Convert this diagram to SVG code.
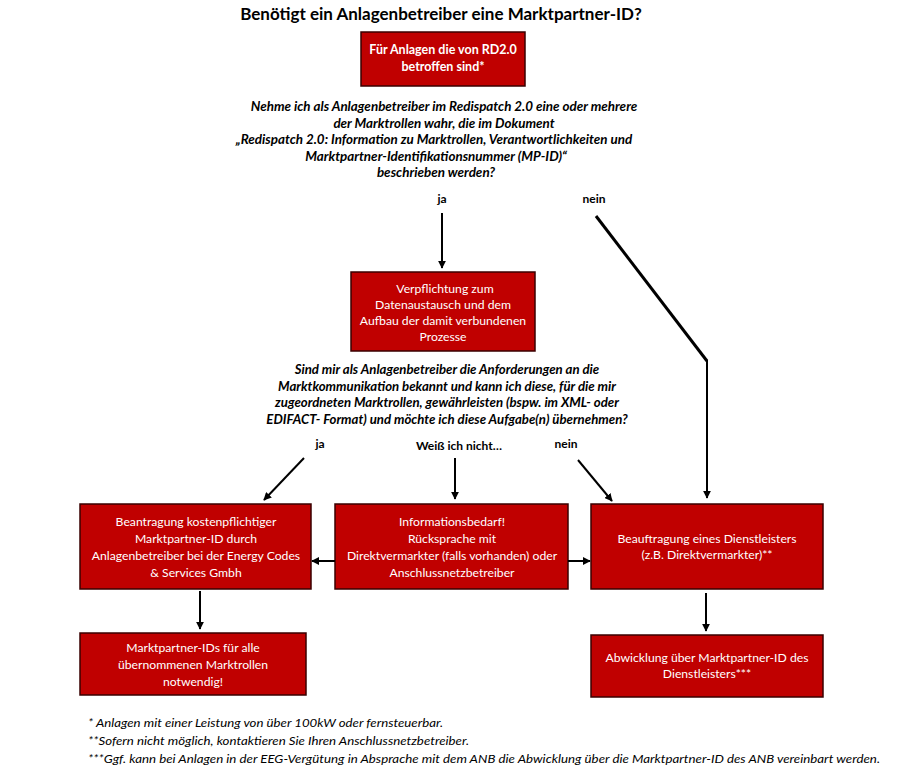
<svg xmlns="http://www.w3.org/2000/svg" width="900" height="767" viewBox="0 0 900 767">
<defs>
<marker id="ah" viewBox="0 0 10 10" refX="9" refY="5" markerWidth="4" markerHeight="4" orient="auto" markerUnits="strokeWidth">
<path d="M0,0 L10,5 L0,10 z" fill="#000"/>
</marker>
<style>
.box{fill:#C00000;stroke:#3a0000;stroke-width:1.5}
.bt{font-family:Lato,"Liberation Sans",sans-serif;font-size:12.2px;fill:#fff;text-anchor:middle}
.btb{font-weight:bold;font-size:12.5px}
.q{font-family:Lato,"Liberation Sans",sans-serif;font-size:13.4px;font-weight:bold;font-style:italic;fill:#000;text-anchor:middle}
.q2{font-size:13.2px}
.lbl{font-family:Lato,"Liberation Sans",sans-serif;font-size:12px;font-weight:bold;fill:#000;text-anchor:middle}
.fn{font-family:Lato,"Liberation Sans",sans-serif;font-size:11.5px;font-style:italic;fill:#000}
.c{stroke:#000;stroke-width:2;fill:none}
</style>
</defs>
<rect width="900" height="767" fill="#fff"/>
<text x="441" y="20" font-family="Lato,'Liberation Sans',sans-serif" font-size="17" font-weight="bold" text-anchor="middle" fill="#000">Benötigt ein Anlagenbetreiber eine Marktpartner-ID?</text>

<g id="n1">
<rect class="box" x="361" y="32" width="164" height="54"/>
<text class="bt btb" x="443" y="54">Für Anlagen die von RD2.0</text>
<text class="bt btb" x="443" y="71">betroffen sind*</text>
</g>

<g id="q1">
<text class="q" x="444" y="111">Nehme ich als Anlagenbetreiber im Redispatch 2.0 eine oder mehrere</text>
<text class="q" x="444" y="127.5">der Marktrollen wahr, die im Dokument</text>
<text class="q" x="434" y="144">„Redispatch 2.0: Information zu Marktrollen, Verantwortlichkeiten und</text>
<text class="q" x="436" y="160.5">Marktpartner-Identifikationsnummer (MP-ID)“</text>
<text class="q" x="436" y="177">beschrieben werden?</text>
</g>

<g id="n2">
<rect class="box" x="351" y="272" width="184" height="79"/>
<text class="bt" x="445" y="293">Verpflichtung zum</text>
<text class="bt" x="443" y="309">Datenaustausch und  dem</text>
<text class="bt" x="443" y="325">Aufbau der damit verbundenen</text>
<text class="bt" x="443" y="341">Prozesse</text>
</g>

<g id="q2">
<text class="q q2" x="447" y="374">Sind mir als Anlagenbetreiber die Anforderungen an die</text>
<text class="q q2" x="447" y="390.5">Marktkommunikation bekannt und kann ich diese, für die mir</text>
<text class="q q2" x="447" y="407">zugeordneten Marktrollen, gewährleisten (bspw. im XML- oder</text>
<text class="q q2" x="447" y="423.5">EDIFACT- Format) und möchte ich diese Aufgabe(n) übernehmen?</text>
</g>

<g id="nL">
<rect class="box" x="80" y="504" width="231" height="85"/>
<text class="bt" x="196" y="526">Beantragung kostenpflichtiger</text>
<text class="bt" x="196" y="543">Marktpartner-ID durch</text>
<text class="bt" x="196" y="560">Anlagenbetreiber bei der Energy Codes</text>
<text class="bt" x="196" y="577">&amp; Services Gmbh</text>
</g>

<g id="nM">
<rect class="box" x="335" y="504" width="233" height="85"/>
<text class="bt" x="452" y="526">Informationsbedarf!</text>
<text class="bt" x="452" y="543">Rücksprache mit</text>
<text class="bt" x="452" y="560">Direktvermarkter (falls vorhanden) oder</text>
<text class="bt" x="452" y="577">Anschlussnetzbetreiber</text>
</g>

<g id="nR">
<rect class="box" x="591" y="504" width="232" height="85"/>
<text class="bt" x="707" y="543">Beauftragung eines Dienstleisters</text>
<text class="bt" x="707" y="559">(z.B. Direktvermarkter)**</text>
</g>

<g id="nLL">
<rect class="box" x="80" y="633" width="226" height="62"/>
<text class="bt" x="193" y="652">Marktpartner-IDs für alle</text>
<text class="bt" x="193" y="669">übernommenen Marktrollen</text>
<text class="bt" x="193" y="686">notwendig!</text>
</g>

<g id="nRR">
<rect class="box" x="591" y="635" width="232" height="62"/>
<text class="bt" x="707" y="662">Abwicklung über Marktpartner-ID des</text>
<text class="bt" x="707" y="678">Dienstleisters***</text>
</g>

<g id="labels">
<text class="lbl" x="442" y="203">ja</text>
<text class="lbl" x="594" y="203">nein</text>
<text class="lbl" x="320" y="448">ja</text>
<text class="lbl" x="459" y="450">Weiß ich nicht…</text>
<text class="lbl" x="566" y="448">nein</text>
</g>

<g id="connectors">
<line class="c" x1="442" y1="213" x2="442" y2="268" marker-end="url(#ah)"/>
<line class="c" x1="596" y1="216" x2="707" y2="361" style="stroke-width:3"/>
<line class="c" x1="707" y1="360" x2="707" y2="498" marker-end="url(#ah)"/>
<line class="c" x1="304" y1="458" x2="264" y2="500" marker-end="url(#ah)"/>
<line class="c" x1="455" y1="458" x2="455" y2="499" marker-end="url(#ah)"/>
<line class="c" x1="578" y1="460" x2="612" y2="501" marker-end="url(#ah)"/>
<line class="c" x1="335" y1="561" x2="312" y2="561" marker-end="url(#ah)"/>
<line class="c" x1="568" y1="561" x2="590" y2="561" marker-end="url(#ah)"/>
<line class="c" x1="200" y1="591" x2="200" y2="629" marker-end="url(#ah)"/>
<line class="c" x1="706" y1="593" x2="706" y2="631" marker-end="url(#ah)"/>
</g>

<g id="footnotes">
<text class="fn" x="88" y="727" textLength="355" lengthAdjust="spacingAndGlyphs">* Anlagen mit einer Leistung von über 100kW oder fernsteuerbar.</text>
<text class="fn" x="88" y="745" textLength="381" lengthAdjust="spacingAndGlyphs">**Sofern nicht möglich, kontaktieren Sie Ihren Anschlussnetzbetreiber.</text>
<text class="fn" x="88" y="763" textLength="792" lengthAdjust="spacingAndGlyphs">***Ggf. kann bei Anlagen in der EEG-Vergütung in Absprache mit dem ANB die Abwicklung über die Marktpartner-ID des ANB vereinbart werden.</text>
</g>
</svg>
